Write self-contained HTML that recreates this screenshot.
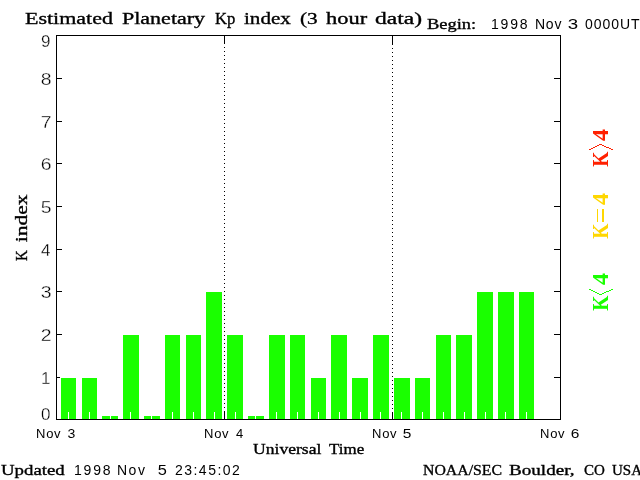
<!DOCTYPE html>
<html><head><meta charset="utf-8"><title>Kp index</title>
<style>html,body{margin:0;padding:0;background:#fff;width:640px;height:480px;overflow:hidden}svg{display:block;will-change:transform}</style>
</head><body><svg width="640" height="480" viewBox="0 0 640 480" shape-rendering="crispEdges"><rect x="61" y="378" width="15" height="41" fill="#1aff00"/><rect x="68" y="412" width="1" height="7" fill="#fff"/><rect x="82" y="378" width="15" height="41" fill="#1aff00"/><rect x="89" y="412" width="1" height="7" fill="#fff"/><rect x="102" y="416" width="16" height="3" fill="#1aff00"/><rect x="110" y="412" width="1" height="7" fill="#fff"/><rect x="123" y="335" width="16" height="84" fill="#1aff00"/><rect x="130" y="412" width="1" height="7" fill="#fff"/><rect x="144" y="416" width="16" height="3" fill="#1aff00"/><rect x="151" y="412" width="1" height="7" fill="#fff"/><rect x="165" y="335" width="15" height="84" fill="#1aff00"/><rect x="172" y="412" width="1" height="7" fill="#fff"/><rect x="186" y="335" width="15" height="84" fill="#1aff00"/><rect x="193" y="412" width="1" height="7" fill="#fff"/><rect x="206" y="292" width="16" height="127" fill="#1aff00"/><rect x="214" y="412" width="1" height="7" fill="#fff"/><rect x="227" y="335" width="16" height="84" fill="#1aff00"/><rect x="235" y="412" width="1" height="7" fill="#fff"/><rect x="248" y="416" width="16" height="3" fill="#1aff00"/><rect x="255" y="412" width="1" height="7" fill="#fff"/><rect x="269" y="335" width="16" height="84" fill="#1aff00"/><rect x="276" y="412" width="1" height="7" fill="#fff"/><rect x="290" y="335" width="15" height="84" fill="#1aff00"/><rect x="297" y="412" width="1" height="7" fill="#fff"/><rect x="311" y="378" width="15" height="41" fill="#1aff00"/><rect x="318" y="412" width="1" height="7" fill="#fff"/><rect x="331" y="335" width="16" height="84" fill="#1aff00"/><rect x="339" y="412" width="1" height="7" fill="#fff"/><rect x="352" y="378" width="16" height="41" fill="#1aff00"/><rect x="360" y="412" width="1" height="7" fill="#fff"/><rect x="373" y="335" width="16" height="84" fill="#1aff00"/><rect x="380" y="412" width="1" height="7" fill="#fff"/><rect x="394" y="378" width="16" height="41" fill="#1aff00"/><rect x="401" y="412" width="1" height="7" fill="#fff"/><rect x="415" y="378" width="15" height="41" fill="#1aff00"/><rect x="422" y="412" width="1" height="7" fill="#fff"/><rect x="436" y="335" width="15" height="84" fill="#1aff00"/><rect x="443" y="412" width="1" height="7" fill="#fff"/><rect x="456" y="335" width="16" height="84" fill="#1aff00"/><rect x="464" y="412" width="1" height="7" fill="#fff"/><rect x="477" y="292" width="16" height="127" fill="#1aff00"/><rect x="485" y="412" width="1" height="7" fill="#fff"/><rect x="498" y="292" width="16" height="127" fill="#1aff00"/><rect x="505" y="412" width="1" height="7" fill="#fff"/><rect x="519" y="292" width="15" height="127" fill="#1aff00"/><rect x="526" y="412" width="1" height="7" fill="#fff"/><rect x="56" y="35" width="505" height="1" fill="#000"/><rect x="56" y="419" width="505" height="1" fill="#000"/><rect x="56" y="35" width="1" height="385" fill="#000"/><rect x="560" y="35" width="1" height="385" fill="#000"/><rect x="57" y="377" width="3" height="1" fill="#000"/><rect x="554" y="377" width="6" height="1" fill="#000"/><rect x="57" y="334" width="5" height="1" fill="#000"/><rect x="554" y="334" width="6" height="1" fill="#000"/><rect x="57" y="291" width="5" height="1" fill="#000"/><rect x="554" y="291" width="6" height="1" fill="#000"/><rect x="57" y="249" width="5" height="1" fill="#000"/><rect x="554" y="249" width="6" height="1" fill="#000"/><rect x="57" y="206" width="5" height="1" fill="#000"/><rect x="554" y="206" width="6" height="1" fill="#000"/><rect x="57" y="163" width="5" height="1" fill="#000"/><rect x="554" y="163" width="6" height="1" fill="#000"/><rect x="57" y="121" width="5" height="1" fill="#000"/><rect x="554" y="121" width="6" height="1" fill="#000"/><rect x="57" y="78" width="5" height="1" fill="#000"/><rect x="554" y="78" width="6" height="1" fill="#000"/><rect x="224" y="36" width="1" height="8" fill="#000"/><rect x="224" y="411" width="1" height="8" fill="#000"/><rect x="224" y="47" width="1" height="1" fill="#000"/><rect x="224" y="51" width="1" height="1" fill="#000"/><rect x="224" y="55" width="1" height="1" fill="#000"/><rect x="224" y="59" width="1" height="1" fill="#000"/><rect x="224" y="63" width="1" height="1" fill="#000"/><rect x="224" y="67" width="1" height="1" fill="#000"/><rect x="224" y="71" width="1" height="1" fill="#000"/><rect x="224" y="75" width="1" height="1" fill="#000"/><rect x="224" y="79" width="1" height="1" fill="#000"/><rect x="224" y="83" width="1" height="1" fill="#000"/><rect x="224" y="87" width="1" height="1" fill="#000"/><rect x="224" y="91" width="1" height="1" fill="#000"/><rect x="224" y="95" width="1" height="1" fill="#000"/><rect x="224" y="99" width="1" height="1" fill="#000"/><rect x="224" y="103" width="1" height="1" fill="#000"/><rect x="224" y="107" width="1" height="1" fill="#000"/><rect x="224" y="111" width="1" height="1" fill="#000"/><rect x="224" y="115" width="1" height="1" fill="#000"/><rect x="224" y="119" width="1" height="1" fill="#000"/><rect x="224" y="123" width="1" height="1" fill="#000"/><rect x="224" y="127" width="1" height="1" fill="#000"/><rect x="224" y="131" width="1" height="1" fill="#000"/><rect x="224" y="135" width="1" height="1" fill="#000"/><rect x="224" y="139" width="1" height="1" fill="#000"/><rect x="224" y="143" width="1" height="1" fill="#000"/><rect x="224" y="147" width="1" height="1" fill="#000"/><rect x="224" y="151" width="1" height="1" fill="#000"/><rect x="224" y="155" width="1" height="1" fill="#000"/><rect x="224" y="159" width="1" height="1" fill="#000"/><rect x="224" y="163" width="1" height="1" fill="#000"/><rect x="224" y="167" width="1" height="1" fill="#000"/><rect x="224" y="171" width="1" height="1" fill="#000"/><rect x="224" y="175" width="1" height="1" fill="#000"/><rect x="224" y="179" width="1" height="1" fill="#000"/><rect x="224" y="183" width="1" height="1" fill="#000"/><rect x="224" y="187" width="1" height="1" fill="#000"/><rect x="224" y="191" width="1" height="1" fill="#000"/><rect x="224" y="195" width="1" height="1" fill="#000"/><rect x="224" y="199" width="1" height="1" fill="#000"/><rect x="224" y="203" width="1" height="1" fill="#000"/><rect x="224" y="207" width="1" height="1" fill="#000"/><rect x="224" y="211" width="1" height="1" fill="#000"/><rect x="224" y="215" width="1" height="1" fill="#000"/><rect x="224" y="219" width="1" height="1" fill="#000"/><rect x="224" y="223" width="1" height="1" fill="#000"/><rect x="224" y="227" width="1" height="1" fill="#000"/><rect x="224" y="231" width="1" height="1" fill="#000"/><rect x="224" y="235" width="1" height="1" fill="#000"/><rect x="224" y="239" width="1" height="1" fill="#000"/><rect x="224" y="243" width="1" height="1" fill="#000"/><rect x="224" y="247" width="1" height="1" fill="#000"/><rect x="224" y="251" width="1" height="1" fill="#000"/><rect x="224" y="255" width="1" height="1" fill="#000"/><rect x="224" y="259" width="1" height="1" fill="#000"/><rect x="224" y="263" width="1" height="1" fill="#000"/><rect x="224" y="267" width="1" height="1" fill="#000"/><rect x="224" y="271" width="1" height="1" fill="#000"/><rect x="224" y="275" width="1" height="1" fill="#000"/><rect x="224" y="279" width="1" height="1" fill="#000"/><rect x="224" y="283" width="1" height="1" fill="#000"/><rect x="224" y="287" width="1" height="1" fill="#000"/><rect x="224" y="291" width="1" height="1" fill="#000"/><rect x="224" y="295" width="1" height="1" fill="#000"/><rect x="224" y="299" width="1" height="1" fill="#000"/><rect x="224" y="303" width="1" height="1" fill="#000"/><rect x="224" y="307" width="1" height="1" fill="#000"/><rect x="224" y="311" width="1" height="1" fill="#000"/><rect x="224" y="315" width="1" height="1" fill="#000"/><rect x="224" y="319" width="1" height="1" fill="#000"/><rect x="224" y="323" width="1" height="1" fill="#000"/><rect x="224" y="327" width="1" height="1" fill="#000"/><rect x="224" y="331" width="1" height="1" fill="#000"/><rect x="224" y="335" width="1" height="1" fill="#000"/><rect x="224" y="339" width="1" height="1" fill="#000"/><rect x="224" y="343" width="1" height="1" fill="#000"/><rect x="224" y="347" width="1" height="1" fill="#000"/><rect x="224" y="351" width="1" height="1" fill="#000"/><rect x="224" y="355" width="1" height="1" fill="#000"/><rect x="224" y="359" width="1" height="1" fill="#000"/><rect x="224" y="363" width="1" height="1" fill="#000"/><rect x="224" y="367" width="1" height="1" fill="#000"/><rect x="224" y="371" width="1" height="1" fill="#000"/><rect x="224" y="375" width="1" height="1" fill="#000"/><rect x="224" y="379" width="1" height="1" fill="#000"/><rect x="224" y="383" width="1" height="1" fill="#000"/><rect x="224" y="387" width="1" height="1" fill="#000"/><rect x="224" y="391" width="1" height="1" fill="#000"/><rect x="224" y="395" width="1" height="1" fill="#000"/><rect x="224" y="399" width="1" height="1" fill="#000"/><rect x="224" y="403" width="1" height="1" fill="#000"/><rect x="224" y="407" width="1" height="1" fill="#000"/><rect x="392" y="36" width="1" height="9" fill="#000"/><rect x="392" y="412" width="1" height="7" fill="#000"/><rect x="392" y="48" width="1" height="1" fill="#000"/><rect x="392" y="52" width="1" height="1" fill="#000"/><rect x="392" y="56" width="1" height="1" fill="#000"/><rect x="392" y="60" width="1" height="1" fill="#000"/><rect x="392" y="64" width="1" height="1" fill="#000"/><rect x="392" y="68" width="1" height="1" fill="#000"/><rect x="392" y="72" width="1" height="1" fill="#000"/><rect x="392" y="76" width="1" height="1" fill="#000"/><rect x="392" y="80" width="1" height="1" fill="#000"/><rect x="392" y="84" width="1" height="1" fill="#000"/><rect x="392" y="88" width="1" height="1" fill="#000"/><rect x="392" y="92" width="1" height="1" fill="#000"/><rect x="392" y="96" width="1" height="1" fill="#000"/><rect x="392" y="100" width="1" height="1" fill="#000"/><rect x="392" y="104" width="1" height="1" fill="#000"/><rect x="392" y="108" width="1" height="1" fill="#000"/><rect x="392" y="112" width="1" height="1" fill="#000"/><rect x="392" y="116" width="1" height="1" fill="#000"/><rect x="392" y="120" width="1" height="1" fill="#000"/><rect x="392" y="124" width="1" height="1" fill="#000"/><rect x="392" y="128" width="1" height="1" fill="#000"/><rect x="392" y="132" width="1" height="1" fill="#000"/><rect x="392" y="136" width="1" height="1" fill="#000"/><rect x="392" y="140" width="1" height="1" fill="#000"/><rect x="392" y="144" width="1" height="1" fill="#000"/><rect x="392" y="148" width="1" height="1" fill="#000"/><rect x="392" y="152" width="1" height="1" fill="#000"/><rect x="392" y="156" width="1" height="1" fill="#000"/><rect x="392" y="160" width="1" height="1" fill="#000"/><rect x="392" y="164" width="1" height="1" fill="#000"/><rect x="392" y="168" width="1" height="1" fill="#000"/><rect x="392" y="172" width="1" height="1" fill="#000"/><rect x="392" y="176" width="1" height="1" fill="#000"/><rect x="392" y="180" width="1" height="1" fill="#000"/><rect x="392" y="184" width="1" height="1" fill="#000"/><rect x="392" y="188" width="1" height="1" fill="#000"/><rect x="392" y="192" width="1" height="1" fill="#000"/><rect x="392" y="196" width="1" height="1" fill="#000"/><rect x="392" y="200" width="1" height="1" fill="#000"/><rect x="392" y="204" width="1" height="1" fill="#000"/><rect x="392" y="208" width="1" height="1" fill="#000"/><rect x="392" y="212" width="1" height="1" fill="#000"/><rect x="392" y="216" width="1" height="1" fill="#000"/><rect x="392" y="220" width="1" height="1" fill="#000"/><rect x="392" y="224" width="1" height="1" fill="#000"/><rect x="392" y="228" width="1" height="1" fill="#000"/><rect x="392" y="232" width="1" height="1" fill="#000"/><rect x="392" y="236" width="1" height="1" fill="#000"/><rect x="392" y="240" width="1" height="1" fill="#000"/><rect x="392" y="244" width="1" height="1" fill="#000"/><rect x="392" y="248" width="1" height="1" fill="#000"/><rect x="392" y="252" width="1" height="1" fill="#000"/><rect x="392" y="256" width="1" height="1" fill="#000"/><rect x="392" y="260" width="1" height="1" fill="#000"/><rect x="392" y="264" width="1" height="1" fill="#000"/><rect x="392" y="268" width="1" height="1" fill="#000"/><rect x="392" y="272" width="1" height="1" fill="#000"/><rect x="392" y="276" width="1" height="1" fill="#000"/><rect x="392" y="280" width="1" height="1" fill="#000"/><rect x="392" y="284" width="1" height="1" fill="#000"/><rect x="392" y="288" width="1" height="1" fill="#000"/><rect x="392" y="292" width="1" height="1" fill="#000"/><rect x="392" y="296" width="1" height="1" fill="#000"/><rect x="392" y="300" width="1" height="1" fill="#000"/><rect x="392" y="304" width="1" height="1" fill="#000"/><rect x="392" y="308" width="1" height="1" fill="#000"/><rect x="392" y="312" width="1" height="1" fill="#000"/><rect x="392" y="316" width="1" height="1" fill="#000"/><rect x="392" y="320" width="1" height="1" fill="#000"/><rect x="392" y="324" width="1" height="1" fill="#000"/><rect x="392" y="328" width="1" height="1" fill="#000"/><rect x="392" y="332" width="1" height="1" fill="#000"/><rect x="392" y="336" width="1" height="1" fill="#000"/><rect x="392" y="340" width="1" height="1" fill="#000"/><rect x="392" y="344" width="1" height="1" fill="#000"/><rect x="392" y="348" width="1" height="1" fill="#000"/><rect x="392" y="352" width="1" height="1" fill="#000"/><rect x="392" y="356" width="1" height="1" fill="#000"/><rect x="392" y="360" width="1" height="1" fill="#000"/><rect x="392" y="364" width="1" height="1" fill="#000"/><rect x="392" y="368" width="1" height="1" fill="#000"/><rect x="392" y="372" width="1" height="1" fill="#000"/><rect x="392" y="376" width="1" height="1" fill="#000"/><rect x="392" y="380" width="1" height="1" fill="#000"/><rect x="392" y="384" width="1" height="1" fill="#000"/><rect x="392" y="388" width="1" height="1" fill="#000"/><rect x="392" y="392" width="1" height="1" fill="#000"/><rect x="392" y="396" width="1" height="1" fill="#000"/><rect x="392" y="400" width="1" height="1" fill="#000"/><rect x="392" y="404" width="1" height="1" fill="#000"/><rect x="392" y="408" width="1" height="1" fill="#000"/><rect x="589" y="149" width="2" height="1" fill="#ff2000"/><rect x="589" y="289" width="2" height="1" fill="#1aff00"/><rect x="591" y="148" width="2" height="1" fill="#ff2000"/><rect x="591" y="290" width="2" height="1" fill="#1aff00"/><rect x="593" y="147" width="2" height="1" fill="#ff2000"/><rect x="593" y="291" width="2" height="1" fill="#1aff00"/><rect x="595" y="146" width="2" height="1" fill="#ff2000"/><rect x="595" y="292" width="2" height="1" fill="#1aff00"/><rect x="597" y="145" width="2" height="1" fill="#ff2000"/><rect x="597" y="293" width="2" height="1" fill="#1aff00"/><rect x="599" y="144" width="3" height="1" fill="#ff2000"/><rect x="599" y="294" width="3" height="1" fill="#1aff00"/><rect x="602" y="145" width="2" height="1" fill="#ff2000"/><rect x="602" y="293" width="2" height="1" fill="#1aff00"/><rect x="604" y="146" width="2" height="1" fill="#ff2000"/><rect x="604" y="292" width="2" height="1" fill="#1aff00"/><rect x="606" y="147" width="3" height="1" fill="#ff2000"/><rect x="606" y="291" width="3" height="1" fill="#1aff00"/><rect x="609" y="148" width="2" height="1" fill="#ff2000"/><rect x="609" y="290" width="2" height="1" fill="#1aff00"/><rect x="611" y="149" width="2" height="1" fill="#ff2000"/><rect x="611" y="289" width="2" height="1" fill="#1aff00"/><rect x="597" y="209" width="1" height="13" fill="#ffd700"/><rect x="602" y="209" width="2" height="13" fill="#ffd700"/><text id="t0" x="24.99" y="24" style="font-family:'Liberation Serif',serif;stroke-width:0.35px;font-size:17.5px;stroke:#000" fill="#000" textLength="87.99" lengthAdjust="spacingAndGlyphs">Estimated</text><text id="t1" x="121.99" y="24" style="font-family:'Liberation Serif',serif;stroke-width:0.35px;font-size:17.5px;stroke:#000" fill="#000" textLength="83.13" lengthAdjust="spacingAndGlyphs">Planetary</text><text id="t2" x="215.00" y="24" style="font-family:'Liberation Serif',serif;stroke-width:0.35px;font-size:17.5px;stroke:#000" fill="#000" textLength="20.37" lengthAdjust="spacingAndGlyphs">Kp</text><text id="t3" x="244.00" y="24" style="font-family:'Liberation Serif',serif;stroke-width:0.35px;font-size:17.5px;stroke:#000" fill="#000" textLength="46.87" lengthAdjust="spacingAndGlyphs">index</text><text id="t4" x="299.93" y="24" style="font-family:'Liberation Serif',serif;stroke-width:0.35px;font-size:17.5px;stroke:#000" fill="#000" textLength="17.77" lengthAdjust="spacingAndGlyphs">(3</text><text id="t5" x="326.00" y="24" style="font-family:'Liberation Serif',serif;stroke-width:0.35px;font-size:17.5px;stroke:#000" fill="#000" textLength="41.10" lengthAdjust="spacingAndGlyphs">hour</text><text id="t6" x="374.95" y="24" style="font-family:'Liberation Serif',serif;stroke-width:0.35px;font-size:17.5px;stroke:#000" fill="#000" textLength="47.07" lengthAdjust="spacingAndGlyphs">data)</text><text id="t7" x="427.00" y="29" style="font-family:'Liberation Serif',serif;stroke-width:0.35px;font-size:15px;stroke:#000" fill="#000" textLength="49.23" lengthAdjust="spacingAndGlyphs">Begin:</text><text id="t8" x="491.00" y="29" style="font-family:'Liberation Sans',sans-serif;font-size:14px" fill="#000" textLength="36.49" lengthAdjust="spacing">1998</text><text id="t9" x="535.00" y="29" style="font-family:'Liberation Sans',sans-serif;font-size:14px" fill="#000" textLength="26.41" lengthAdjust="spacing">Nov</text><text id="t10" x="567.67" y="29" style="font-family:'Liberation Sans',sans-serif;font-size:14px" fill="#000" textLength="10.40" lengthAdjust="spacingAndGlyphs">3</text><text id="t11" x="585.00" y="29" style="font-family:'Liberation Sans',sans-serif;font-size:14px" fill="#000" textLength="54.61" lengthAdjust="spacing">0000UT</text><text id="t12" x="41.00" y="420" style="font-family:'Liberation Sans',sans-serif;font-size:17px;stroke:#fff;stroke-width:0.3px" fill="#000" textLength="9.47" lengthAdjust="spacingAndGlyphs">0</text><text id="t13" x="41.00" y="384" style="font-family:'Liberation Sans',sans-serif;font-size:17px;stroke:#fff;stroke-width:0.3px" fill="#000" textLength="9.47" lengthAdjust="spacingAndGlyphs">1</text><text id="t14" x="40.86" y="341" style="font-family:'Liberation Sans',sans-serif;font-size:17px;stroke:#fff;stroke-width:0.3px" fill="#000" textLength="10.82" lengthAdjust="spacingAndGlyphs">2</text><text id="t15" x="40.86" y="298" style="font-family:'Liberation Sans',sans-serif;font-size:17px;stroke:#fff;stroke-width:0.3px" fill="#000" textLength="10.82" lengthAdjust="spacingAndGlyphs">3</text><text id="t16" x="41.00" y="256" style="font-family:'Liberation Sans',sans-serif;font-size:17px;stroke:#fff;stroke-width:0.3px" fill="#000" textLength="9.47" lengthAdjust="spacingAndGlyphs">4</text><text id="t17" x="40.86" y="213" style="font-family:'Liberation Sans',sans-serif;font-size:17px;stroke:#fff;stroke-width:0.3px" fill="#000" textLength="10.82" lengthAdjust="spacingAndGlyphs">5</text><text id="t18" x="40.86" y="170" style="font-family:'Liberation Sans',sans-serif;font-size:17px;stroke:#fff;stroke-width:0.3px" fill="#000" textLength="10.82" lengthAdjust="spacingAndGlyphs">6</text><text id="t19" x="40.86" y="128" style="font-family:'Liberation Sans',sans-serif;font-size:17px;stroke:#fff;stroke-width:0.3px" fill="#000" textLength="10.82" lengthAdjust="spacingAndGlyphs">7</text><text id="t20" x="40.86" y="85" style="font-family:'Liberation Sans',sans-serif;font-size:17px;stroke:#fff;stroke-width:0.3px" fill="#000" textLength="10.82" lengthAdjust="spacingAndGlyphs">8</text><text id="t21" x="41.00" y="47" style="font-family:'Liberation Sans',sans-serif;font-size:17px;stroke:#fff;stroke-width:0.3px" fill="#000" textLength="9.47" lengthAdjust="spacingAndGlyphs">9</text><text id="t22" x="36.00" y="438" style="font-family:'Liberation Sans',sans-serif;font-size:13px" fill="#000" textLength="24.62" lengthAdjust="spacing">Nov</text><text id="t23" x="67.57" y="438" style="font-family:'Liberation Sans',sans-serif;font-size:13px" fill="#000" textLength="7.82" lengthAdjust="spacingAndGlyphs">3</text><text id="t24" x="204.00" y="438" style="font-family:'Liberation Sans',sans-serif;font-size:13px" fill="#000" textLength="24.62" lengthAdjust="spacing">Nov</text><text id="t25" x="236.00" y="438" style="font-family:'Liberation Sans',sans-serif;font-size:13px" fill="#000" textLength="7.23" lengthAdjust="spacingAndGlyphs">4</text><text id="t26" x="372.00" y="438" style="font-family:'Liberation Sans',sans-serif;font-size:13px" fill="#000" textLength="24.62" lengthAdjust="spacing">Nov</text><text id="t27" x="402.81" y="438" style="font-family:'Liberation Sans',sans-serif;font-size:13px" fill="#000" textLength="8.62" lengthAdjust="spacingAndGlyphs">5</text><text id="t28" x="540.00" y="438" style="font-family:'Liberation Sans',sans-serif;font-size:13px" fill="#000" textLength="24.62" lengthAdjust="spacing">Nov</text><text id="t29" x="570.68" y="438" style="font-family:'Liberation Sans',sans-serif;font-size:13px" fill="#000" textLength="8.62" lengthAdjust="spacingAndGlyphs">6</text><text id="t30" x="253.00" y="454" style="font-family:'Liberation Serif',serif;stroke-width:0.35px;font-size:15px;stroke:#000" fill="#000" textLength="68.38" lengthAdjust="spacingAndGlyphs">Universal</text><text id="t31" x="329.00" y="454" style="font-family:'Liberation Serif',serif;stroke-width:0.35px;font-size:15px;stroke:#000" fill="#000" textLength="35.16" lengthAdjust="spacingAndGlyphs">Time</text><text id="t32" x="1.00" y="475" style="font-family:'Liberation Serif',serif;stroke-width:0.35px;font-size:15px;stroke:#000" fill="#000" textLength="63.78" lengthAdjust="spacingAndGlyphs">Updated</text><text id="t33" x="74.00" y="475" style="font-family:'Liberation Sans',sans-serif;font-size:14px" fill="#000" textLength="36.49" lengthAdjust="spacing">1998</text><text id="t34" x="117.00" y="475" style="font-family:'Liberation Sans',sans-serif;font-size:14px" fill="#000" textLength="27.91" lengthAdjust="spacing">Nov</text><text id="t35" x="157.83" y="475" style="font-family:'Liberation Sans',sans-serif;font-size:14px" fill="#000" textLength="9.10" lengthAdjust="spacingAndGlyphs">5</text><text id="t36" x="175.00" y="475" style="font-family:'Liberation Sans',sans-serif;font-size:14px" fill="#000" textLength="64.79" lengthAdjust="spacing">23:45:02</text><text id="t37" x="423.00" y="475" style="font-family:'Liberation Serif',serif;stroke-width:0.35px;font-size:15px;stroke:#000" fill="#000" textLength="79.07" lengthAdjust="spacingAndGlyphs">NOAA/SEC</text><text id="t38" x="509.00" y="475" style="font-family:'Liberation Serif',serif;stroke-width:0.35px;font-size:15px;stroke:#000" fill="#000" textLength="65.62" lengthAdjust="spacingAndGlyphs">Boulder,</text><text id="t39" x="584.00" y="475" style="font-family:'Liberation Serif',serif;stroke-width:0.35px;font-size:15px;stroke:#000" fill="#000" textLength="20.84" lengthAdjust="spacingAndGlyphs">CO</text><text id="t40" x="612.00" y="475" style="font-family:'Liberation Serif',serif;stroke-width:0.35px;font-size:15px;stroke:#000" fill="#000" textLength="30.02" lengthAdjust="spacingAndGlyphs">USA</text><text id="t41" transform="translate(27,260.94) rotate(-90)" x="0" y="0" style="font-family:'Liberation Serif',serif;stroke-width:0.35px;font-size:17.5px;stroke:#000" fill="#000" textLength="10.79" lengthAdjust="spacingAndGlyphs">K</text><text id="t42" transform="translate(27,242.23) rotate(-90)" x="0" y="0" style="font-family:'Liberation Serif',serif;stroke-width:0.35px;font-size:17.5px;stroke:#000" fill="#000" textLength="47.89" lengthAdjust="spacingAndGlyphs">index</text><text id="t43" transform="translate(608,166.80) rotate(-90)" x="0" y="0" style="font-family:'Liberation Serif',serif;font-weight:bold;font-size:24px" fill="#ff2000" textLength="15.20" lengthAdjust="spacingAndGlyphs">K</text><text id="t44" transform="translate(608,141.00) rotate(-90)" x="0" y="0" style="font-family:'Liberation Serif',serif;font-weight:bold;font-size:24px" fill="#ff2000" textLength="12.00" lengthAdjust="spacingAndGlyphs">4</text><text id="t45" transform="translate(608,238.80) rotate(-90)" x="0" y="0" style="font-family:'Liberation Serif',serif;font-weight:bold;font-size:24px" fill="#ffd700" textLength="15.20" lengthAdjust="spacingAndGlyphs">K</text><text id="t46" transform="translate(608,205.00) rotate(-90)" x="0" y="0" style="font-family:'Liberation Serif',serif;font-weight:bold;font-size:24px" fill="#ffd700" textLength="12.00" lengthAdjust="spacingAndGlyphs">4</text><text id="t47" transform="translate(608,310.80) rotate(-90)" x="0" y="0" style="font-family:'Liberation Serif',serif;font-weight:bold;font-size:24px" fill="#1aff00" textLength="15.20" lengthAdjust="spacingAndGlyphs">K</text><text id="t48" transform="translate(608,285.00) rotate(-90)" x="0" y="0" style="font-family:'Liberation Serif',serif;font-weight:bold;font-size:24px" fill="#1aff00" textLength="12.00" lengthAdjust="spacingAndGlyphs">4</text></svg></body></html>
